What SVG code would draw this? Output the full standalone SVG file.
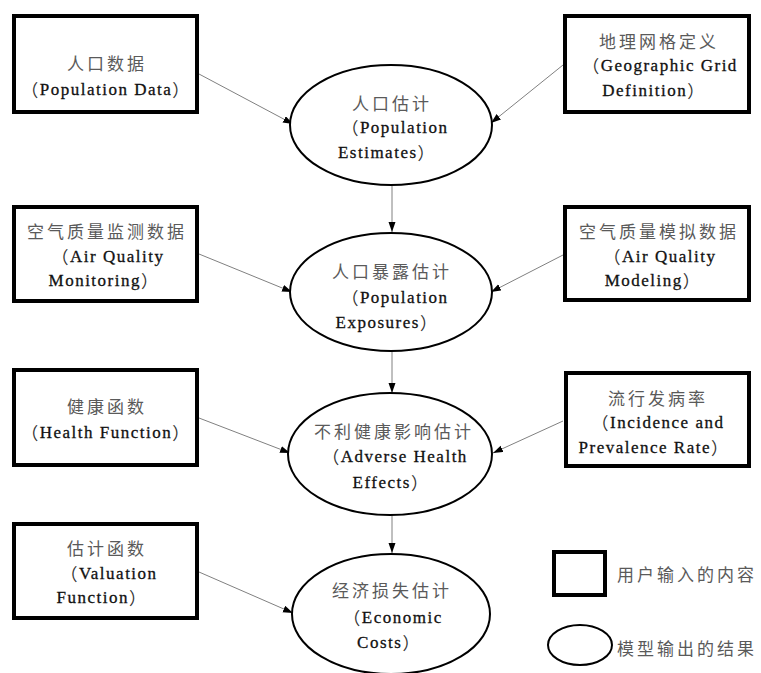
<svg xmlns="http://www.w3.org/2000/svg" width="761" height="673" viewBox="0 0 761 673">
<style>
.box{fill:#fff;stroke:#000;stroke-width:4}
.ell{fill:#fff;stroke:#000;stroke-width:2}
.cn{font-family:"Noto Sans CJK SC",sans-serif;font-size:17px;letter-spacing:3px;fill:#5a5a5a;text-anchor:middle;dominant-baseline:central}
.en{font-family:"Liberation Serif","Times New Roman","DejaVu Serif",serif;font-size:17px;letter-spacing:1.5px;fill:#111;stroke:#111;stroke-width:0.3;text-anchor:middle;dominant-baseline:central}
.p{font-family:"Noto Sans CJK SC",sans-serif;font-size:17px;fill:#333;stroke:none}
.lg{font-family:"Noto Sans CJK SC",sans-serif;font-size:17px;letter-spacing:3px;fill:#5a5a5a;dominant-baseline:central}
.con{stroke:#808080;stroke-width:1;fill:none;marker-end:url(#ah)}
</style>
<defs>
<marker id="ah" markerUnits="userSpaceOnUse" markerWidth="11" markerHeight="8" refX="10" refY="3.5" orient="auto">
<path d="M0,0 L10,3.5 L0,7 z" fill="#000"/>
</marker>
</defs>
<rect width="761" height="673" fill="#fff"/>
<g id="connectors">
<line class="con" x1="199" y1="74" x2="293" y2="124"/>
<line class="con" x1="563" y1="65" x2="491" y2="123"/>
<line class="con" x1="199" y1="254" x2="292" y2="292"/>
<line class="con" x1="563" y1="255" x2="491" y2="292"/>
<line class="con" x1="199" y1="418" x2="290" y2="453"/>
<line class="con" x1="563" y1="421" x2="493" y2="453"/>
<line class="con" x1="199" y1="572" x2="293" y2="613"/>
<line class="con" x1="392" y1="186" x2="392" y2="232"/>
<line class="con" x1="392" y1="351" x2="392" y2="393"/>
<line class="con" x1="392" y1="515" x2="392" y2="553"/>
</g>
<g id="n-pop-data">
<rect class="box" x="14" y="16" width="183" height="96"/>
<text class="cn" x="107" y="62">人口数据</text>
<text class="en" x="106" y="89"><tspan class="p">（</tspan>Population Data<tspan class="p">）</tspan></text>
</g>
<g id="n-geo-grid">
<rect class="box" x="565" y="16" width="184" height="96"/>
<text class="cn" x="659" y="40">地理网格定义</text>
<text class="en" x="660" y="65"><tspan class="p">（</tspan>Geographic Grid</text>
<text class="en" x="654" y="90">Definition<tspan class="p">）</tspan></text>
</g>
<g id="n-pop-est">
<ellipse class="ell" cx="391" cy="125" rx="101" ry="60"/>
<text class="cn" x="392" y="102">人口估计</text>
<text class="en" x="395" y="127"><tspan class="p">（</tspan>Population</text>
<text class="en" x="387" y="152">Estimates<tspan class="p">）</tspan></text>
</g>
<g id="n-aq-mon">
<rect class="box" x="14" y="207" width="183" height="94"/>
<text class="cn" x="107" y="230">空气质量监测数据</text>
<text class="en" x="108" y="256"><tspan class="p">（</tspan>Air Quality</text>
<text class="en" x="104" y="280">Monitoring<tspan class="p">）</tspan></text>
</g>
<g id="n-aq-mod">
<rect class="box" x="565" y="207" width="184" height="93"/>
<text class="cn" x="659" y="230">空气质量模拟数据</text>
<text class="en" x="660" y="256"><tspan class="p">（</tspan>Air Quality</text>
<text class="en" x="653" y="280">Modeling<tspan class="p">）</tspan></text>
</g>
<g id="n-pop-exp">
<ellipse class="ell" cx="391" cy="292" rx="101" ry="59"/>
<text class="cn" x="392" y="270">人口暴露估计</text>
<text class="en" x="395" y="297"><tspan class="p">（</tspan>Population</text>
<text class="en" x="387" y="322">Exposures<tspan class="p">）</tspan></text>
</g>
<g id="n-health-fn">
<rect class="box" x="14" y="370" width="183" height="95"/>
<text class="cn" x="107" y="405">健康函数</text>
<text class="en" x="106" y="432"><tspan class="p">（</tspan>Health Function<tspan class="p">）</tspan></text>
</g>
<g id="n-incidence">
<rect class="box" x="566" y="373" width="183" height="93"/>
<text class="cn" x="658" y="397">流行发病率</text>
<text class="en" x="658" y="422"><tspan class="p">（</tspan>Incidence and</text>
<text class="en" x="654" y="447">Prevalence Rate<tspan class="p">）</tspan></text>
</g>
<g id="n-adverse">
<ellipse class="ell" cx="390" cy="454" rx="102" ry="61"/>
<text class="cn" x="394" y="430">不利健康影响估计</text>
<text class="en" x="395" y="456"><tspan class="p">（</tspan>Adverse Health</text>
<text class="en" x="391" y="482">Effects<tspan class="p">）</tspan></text>
</g>
<g id="n-valuation">
<rect class="box" x="14" y="524" width="183" height="94"/>
<text class="cn" x="107" y="547">估计函数</text>
<text class="en" x="109" y="573"><tspan class="p">（</tspan>Valuation</text>
<text class="en" x="102" y="597">Function<tspan class="p">）</tspan></text>
</g>
<g id="n-econ">
<ellipse class="ell" cx="391" cy="614" rx="99" ry="60"/>
<text class="cn" x="392" y="589">经济损失估计</text>
<text class="en" x="393" y="617"><tspan class="p">（</tspan>Economic</text>
<text class="en" x="389" y="642">Costs<tspan class="p">）</tspan></text>
</g>
<g id="legend">
<rect class="box" x="554" y="552" width="51" height="43"/>
<text class="lg" x="617" y="573">用户输入的内容</text>
<ellipse class="ell" cx="580" cy="645" rx="32" ry="20"/>
<text class="lg" x="617" y="647">模型输出的结果</text>
</g>
</svg>
